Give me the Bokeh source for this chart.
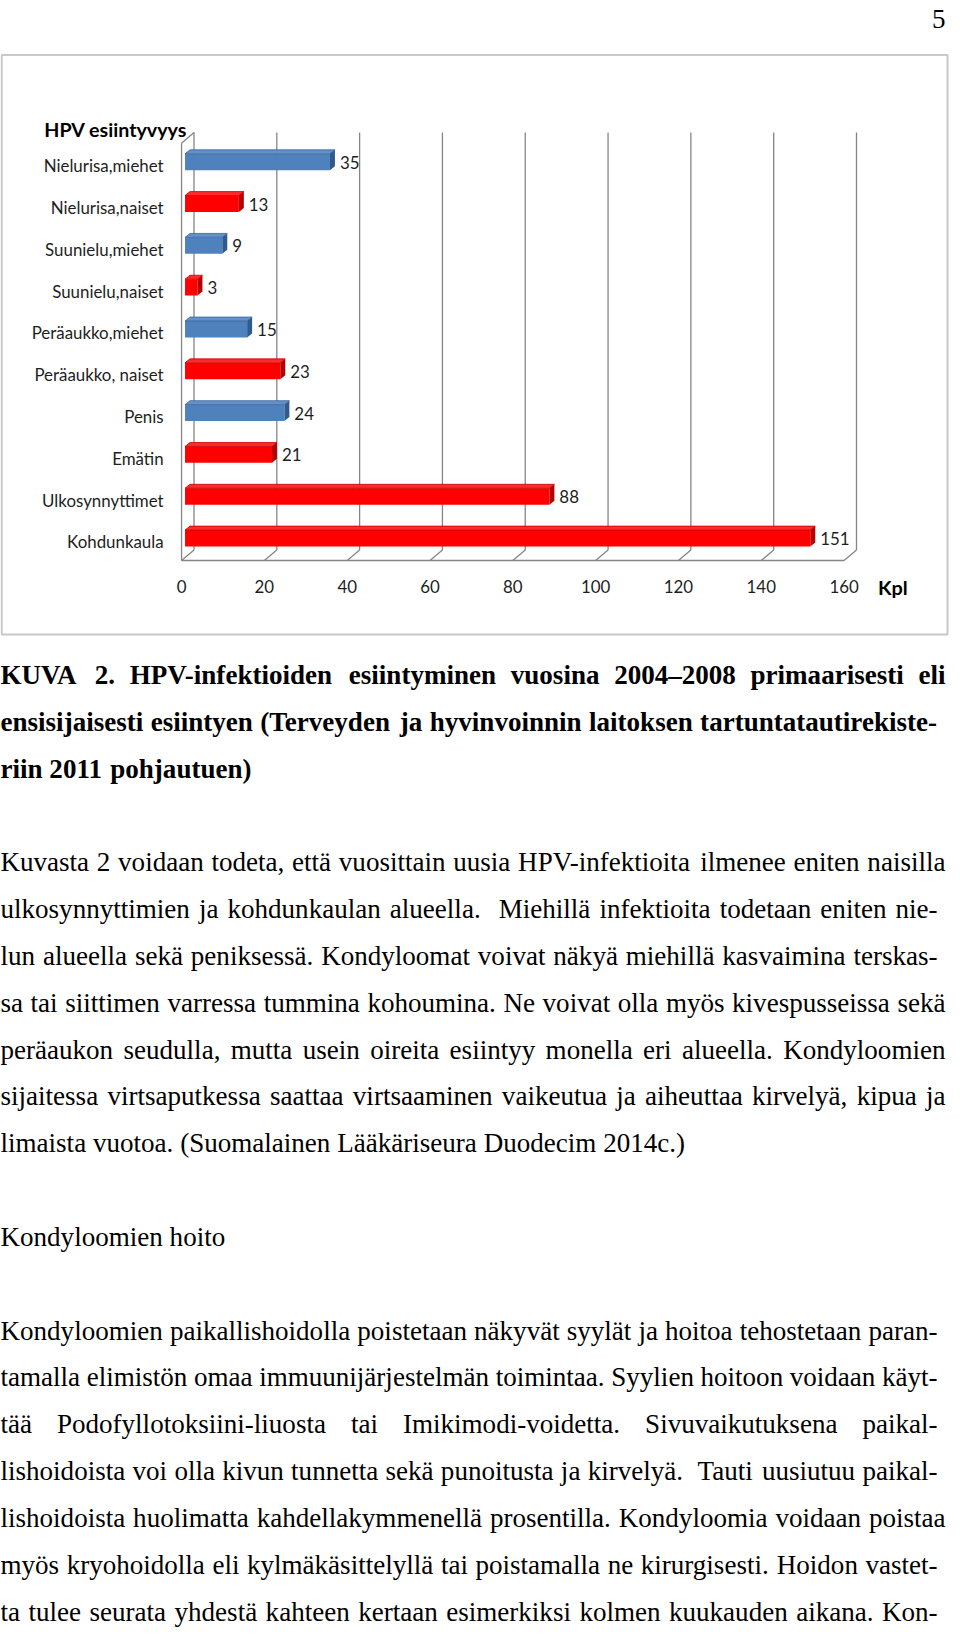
from bokeh.plotting import figure
from bokeh.models import Range1d, ColumnDataSource
from bokeh.core.properties import value
from bokeh.embed import file_html
from bokeh.resources import INLINE

# ---------------- data ----------------
chart_title = "HPV esiintyvyys"
categories = ["Nielurisa,miehet", "Nielurisa,naiset", "Suunielu,miehet", "Suunielu,naiset",
              "Peräaukko,miehet", "Peräaukko, naiset", "Penis", "Emätin",
              "Ulkosynnyttimet", "Kohdunkaula"]
counts = [35, 13, 9, 3, 15, 23, 24, 21, 88, 151]
sex = ["m", "f", "m", "f", "m", "f", "m", "f", "f", "f"]
x_ticks = [0, 20, 40, 60, 80, 100, 120, 140, 160]
x_unit = "Kpl"
page_number = "5"

caption_lines = [
    "KUVA 2. HPV-infektioiden esiintyminen vuosina 2004–2008 primaarisesti eli",
    "ensisijaisesti esiintyen (Terveyden ja hyvinvoinnin laitoksen tartuntatautirekiste-",
    "riin 2011 pohjautuen)",
]
paragraph1 = [
    "Kuvasta 2 voidaan todeta, että vuosittain uusia HPV-infektioita ilmenee eniten naisilla",
    "ulkosynnyttimien ja kohdunkaulan alueella.  Miehillä infektioita todetaan eniten nie-",
    "lun alueella sekä peniksessä. Kondyloomat voivat näkyä miehillä kasvaimina terskas-",
    "sa tai siittimen varressa tummina kohoumina. Ne voivat olla myös kivespusseissa sekä",
    "peräaukon seudulla, mutta usein oireita esiintyy monella eri alueella. Kondyloomien",
    "sijaitessa virtsaputkessa saattaa virtsaaminen vaikeutua ja aiheuttaa kirvelyä, kipua ja",
    "limaista vuotoa. (Suomalainen Lääkäriseura Duodecim 2014c.)",
]
heading = "Kondyloomien hoito"
paragraph2 = [
    "Kondyloomien paikallishoidolla poistetaan näkyvät syylät ja hoitoa tehostetaan paran-",
    "tamalla elimistön omaa immuunijärjestelmän toimintaa. Syylien hoitoon voidaan käyt-",
    "tää Podofyllotoksiini-liuosta tai Imikimodi-voidetta. Sivuvaikutuksena paikal-",
    "lishoidoista voi olla kivun tunnetta sekä punoitusta ja kirvelyä.  Tauti uusiutuu paikal-",
    "lishoidoista huolimatta kahdellakymmenellä prosentilla. Kondyloomia voidaan poistaa",
    "myös kryohoidolla eli kylmäkäsittelyllä tai poistamalla ne kirurgisesti. Hoidon vastet-",
    "ta tulee seurata yhdestä kahteen kertaan esimerkiksi kolmen kuukauden aikana. Kon-",
]

# ---------------- geometry: reference page pixels -> data units ----------------
PW, PH = 952, 1631          # figure size (page has an 8px margin)
PX0, PY0 = 3.0, 6.0         # reference pixel shown at the figure's top-left corner
SX = PW / (960.0 - PX0)
SY = 0.992
PY1 = PY0 + PH / SY
K = 4.1625                  # page px per count
STEP = 42.15                # page px per category
X0, Y0 = 185.0, 172.5       # page position of count 0 / first category


def X(p):
    return (p - X0) / K


def Y(p):
    return (p - Y0) / STEP


def DX(p):
    return p / K


def DY(p):
    return p / STEP


def fpx(s):
    return "%.2fpx" % (s * (SX + SY) / 2)


p = figure(width=PW, height=PH, x_range=Range1d(X(PX0), X(960)),
           y_range=Range1d(Y(PY1), Y(PY0)), output_backend="svg",
           toolbar_location=None, min_border=0,
           x_axis_location=None, y_axis_location=None)
p.grid.visible = False
p.outline_line_color = None
p.background_fill_color = "white"
p.border_fill_color = "white"

GRID = "#858585"
# outer frame of the chart picture
p.quad(left=X(4.2), right=X(955), top=Y(61), bottom=Y(645), fill_color=None,
       line_color="#c8c8c8", line_width=2)

# 3D walls: back grid lines, floor and left wall
WD = (12.5, -10.5)
xs, ys = [], []
for t in x_ticks:
    xs.append([t + DX(WD[0]), t + DX(WD[0])])
    ys.append([Y(560), Y(139)])
    xs.append([t, t + DX(WD[0])])
    ys.append([Y(570.5), Y(570.5) + DY(WD[1])])
xs.append([x_ticks[0], x_ticks[-1]])
ys.append([Y(570.5), Y(570.5)])
xs.append([x_ticks[0], x_ticks[0]])
ys.append([Y(570.5), Y(150)])
xs.append([x_ticks[0], x_ticks[0] + DX(WD[0])])
ys.append([Y(150), Y(139)])
p.multi_line(xs=xs, ys=ys, line_color=GRID, line_width=1.3)

# bars (front face, top face, end cap)
colors = {"m": ("#4F81BD", "#6390C8", "#2F5B8F", "#3B6699"),
          "f": ("#FF0000", "#FF2A2A", "#B80000", "#C80000")}
fl, fr, ft, fb, fc = [], [], [], [], []
txs, tys, tcs, tls = [], [], [], []
exs, eys, ecs = [], [], []
for i, (v, g) in enumerate(zip(counts, sex)):
    front, topc, endc, edge = colors[g]
    L = 0 + DX(3.5)
    R = v + DX(3.5)
    T = i + DY(-12)
    B = i + DY(4.5)
    ddx, ddy = DX(5), DY(-4)
    fl.append(L); fr.append(R); ft.append(T); fb.append(B); fc.append(front)
    txs.append([L, R, R + ddx, L + ddx]); tys.append([T, T, T + ddy, T + ddy])
    tcs.append(topc); tls.append(edge)
    exs.append([R, R + ddx, R + ddx, R]); eys.append([T, T + ddy, B + ddy, B])
    ecs.append(endc)
p.quad(left=fl, right=fr, top=ft, bottom=fb, fill_color=fc, line_color=None)
p.patches(xs=txs, ys=tys, fill_color=tcs, line_color=tls, line_width=0.8)
p.patches(xs=exs, ys=eys, fill_color=ecs, line_color=None)

LBL = "#1e1e1e"
FONT = value("Lato")
# value labels
p.text(x=[v + DX(13.5) for v in counts], y=[i + DY(-3.5) for i in range(len(counts))],
       text=[str(v) for v in counts], text_font=FONT, text_font_size=fpx(17),
       text_color=LBL, text_align="left", text_baseline="middle")
# category labels
p.text(x=[X(167)] * len(categories), y=list(range(len(categories))), text=categories,
       text_font=FONT, text_font_size=fpx(17), text_color=LBL,
       text_align="right", text_baseline="middle")
# x tick labels
p.text(x=x_ticks, y=[Y(597)] * len(x_ticks), text=[str(t) for t in x_ticks],
       text_font=FONT, text_font_size=fpx(17), text_color=LBL,
       text_align="center", text_baseline="middle")
# unit and title
p.text(x=[x_ticks[-1] + DX(34)], y=[Y(597)], text=[x_unit], text_font=FONT,
       text_font_size=fpx(20), text_font_style="bold", text_color="#000000",
       text_align="left", text_baseline="middle")
p.text(x=[X(47)], y=[Y(136)], text=[chart_title], text_font=FONT,
       text_font_size=fpx(19.8), text_font_style="bold", text_color="#000000",
       text_align="left", text_baseline="middle")
# page number
p.text(x=[X(953)], y=[Y(25)], text=[page_number], text_font=value("Liberation Serif"),
       text_font_size=fpx(27.2), text_color="#000000", text_align="right",
       text_baseline="alphabetic")

# ---------------- body text (justified like the page) ----------------
REG = {" ": 250, ".": 250, ",": 250, "-": 333, "(": 333, ")": 333, "–": 500, ":": 278,
       "a": 444, "b": 500, "c": 444, "d": 500, "e": 444, "f": 333, "g": 500, "h": 500,
       "i": 278, "j": 278, "k": 500, "l": 278, "m": 778, "n": 500, "o": 500, "p": 500,
       "q": 500, "r": 333, "s": 389, "t": 278, "u": 500, "v": 500, "w": 722, "x": 500,
       "y": 500, "z": 444, "ä": 444, "ö": 500,
       "A": 722, "B": 667, "C": 667, "D": 722, "E": 611, "F": 556, "G": 722, "H": 722,
       "I": 333, "J": 389, "K": 722, "L": 611, "M": 889, "N": 722, "O": 722, "P": 556,
       "Q": 722, "R": 667, "S": 556, "T": 611, "U": 722, "V": 722, "W": 944, "X": 722,
       "Y": 722, "Z": 611}
BOLD = {" ": 250, ".": 250, ",": 250, "-": 333, "(": 333, ")": 333, "–": 500, ":": 333,
        "a": 500, "b": 556, "c": 444, "d": 556, "e": 444, "f": 333, "g": 500, "h": 556,
        "i": 278, "j": 333, "k": 556, "l": 278, "m": 833, "n": 556, "o": 500, "p": 556,
        "q": 556, "r": 444, "s": 389, "t": 333, "u": 556, "v": 500, "w": 722, "x": 500,
        "y": 500, "z": 444, "ä": 500, "ö": 500,
        "A": 722, "B": 667, "C": 722, "D": 722, "E": 667, "F": 611, "G": 778, "H": 778,
        "I": 389, "J": 500, "K": 778, "L": 667, "M": 944, "N": 722, "O": 778, "P": 611,
        "Q": 778, "R": 667, "S": 556, "T": 667, "U": 722, "V": 722, "W": 1000, "X": 722,
        "Y": 722, "Z": 667}
FS = 27.2
LEFT, RIGHT = 3.0, 953.0


def place(line, widths, justify):
    tokens = line.split(" ")
    ww = [sum(widths.get(c, 500) for c in t) / 1000.0 * FS for t in tokens]
    sp = widths[" "] / 1000.0 * FS
    nsp = len(tokens) - 1
    right = RIGHT - (8 if line.endswith("-") else 0)
    natural = sum(ww) + nsp * sp
    extra = (right - LEFT - natural) / nsp if (justify and nsp > 0) else 0.0
    out = []
    x = LEFT
    for t, w in zip(tokens, ww):
        if t:
            out.append((x, t))
        x += w + sp + extra
    return out


rows = []  # (line index, text, bold, justified)
for j, ln in enumerate(caption_lines):
    rows.append((j, ln, True, j < len(caption_lines) - 1))
for j, ln in enumerate(paragraph1):
    rows.append((4 + j, ln, False, j < len(paragraph1) - 1))
rows.append((12, heading, False, False))
for j, ln in enumerate(paragraph2):
    rows.append((14 + j, ln, False, True))

srcs = {True: dict(x=[], y=[], t=[]), False: dict(x=[], y=[], t=[])}
for k, ln, bold, just in rows:
    base = 686 + 47.2 * k
    for x, w in place(ln, BOLD if bold else REG, just):
        srcs[bold]["x"].append(X(x))
        srcs[bold]["y"].append(Y(base))
        srcs[bold]["t"].append(w)

for bold in (True, False):
    p.text(x="x", y="y", text="t", source=ColumnDataSource(srcs[bold]),
           text_font=value("Liberation Serif"), text_font_size="%.2fpx" % (FS * SX),
           text_font_style="bold" if bold else "normal", text_color="#000000",
           text_align="left", text_baseline="alphabetic")

open("out.html", "w").write(file_html(p, INLINE))
